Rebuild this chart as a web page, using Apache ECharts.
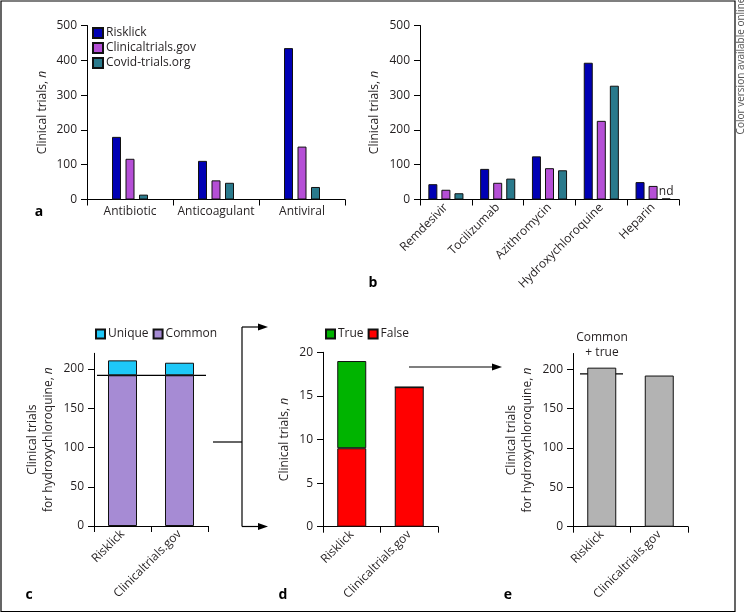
<!DOCTYPE html>
<html><head><meta charset="utf-8">
<script src="https://cdn.jsdelivr.net/npm/echarts@6/dist/echarts.min.js"></script>
<style>html,body{margin:0;padding:0;background:#fff}#c{width:746px;height:613px}</style>
</head><body><div id="c"></div>
<script>
// ---- data ----
const catsA = ['Antibiotic', 'Anticoagulant', 'Antiviral'];
const risklickA = [180, 111, 435];
const clinicalA = [117, 55, 152];
const covidA = [14, 48, 36];

const catsB = ['Remdesivir', 'Tocilizumab', 'Azithromycin', 'Hydroxychloroquine', 'Heparin'];
const risklickB = [44, 88, 124, 393, 50];
const clinicalB = [28, 48, 90, 226, 39];
const covidB = [18, 60, 84, 327, 3];
const notDetermined = [false, false, false, false, true];

const catsCDE = ['Risklick', 'Clinicaltrials.gov'];
const commonC = [192, 192];
const uniqueC = [19, 16];
const trueD = [10, 0];
const falseD = [9, 16];
const commonTrueE = [202, 192];
const commonLine = 192;

const ticksA = [0, 100, 200, 300, 400, 500];
const ticksC = [0, 50, 100, 150, 200];
const ticksD = [0, 5, 10, 15, 20];

// ---- style ----
const FONT = '"Open Sans", sans-serif';
const TXT = '#231f20';
const C = {
  risk: '#0000b4', ct: '#b54fd6', covid: '#2a7a8c',
  unique: '#1ec8f8', common: '#a68bd4', tru: '#00b400', fal: '#ff0000', e: '#b3b3b3'
};

const chart = echarts.init(document.getElementById('c'), null, {renderer: 'canvas'});

function yAx(gi, max, interval, ticks, nameGap, name) {
  return {
    gridIndex: gi, type: 'value', min: 0, max: max, interval: interval,
    axisLine: {show: true, lineStyle: {color: '#000', width: 1}},
    axisTick: {show: true, length: 6, lineStyle: {color: '#000'}, customValues: ticks},
    axisLabel: {color: TXT, fontSize: 12, fontFamily: FONT, margin: 10, customValues: ticks},
    splitLine: {show: false},
    name: name, nameLocation: 'middle', nameGap: nameGap, nameRotate: 90,
    nameTextStyle: {color: TXT, fontSize: 12, fontFamily: FONT, lineHeight: 16,
      rich: {i: {fontStyle: 'italic', fontSize: 12, fontFamily: FONT, color: TXT, lineHeight: 16}}}
  };
}
function xAx(gi, data, rotate, margin) {
  return {
    gridIndex: gi, type: 'category', data: data,
    axisLine: {show: true, lineStyle: {color: '#000', width: 1}},
    axisTick: {show: true, length: 6, alignWithLabel: false, lineStyle: {color: '#000'}},
    axisLabel: {color: TXT, fontSize: 12, fontFamily: FONT, margin: margin, rotate: rotate, interval: 0}
  };
}
const border = {borderColor: '#111', borderWidth: 1};
function bar(name, xi, data, color, extra) {
  return Object.assign({
    type: 'bar', name: name, xAxisIndex: xi, yAxisIndex: xi, data: data,
    itemStyle: Object.assign({color: color}, border)
  }, extra || {});
}

const covidBData = covidB.map((v, i) => notDetermined[i]
  ? {value: v, itemStyle: {color: '#000'}, label: {show: true, position: 'top', distance: 1, formatter: 'nd', color: TXT, fontSize: 12, fontFamily: FONT}}
  : v);

const yName1 = 'Clinical trials, {i|n}';
const yName2 = 'Clinical trials\nfor hydroxychloroquine, {i|n}';

const legendBase = {
  icon: 'rect', itemWidth: 10, itemHeight: 10, selectedMode: false,
  textStyle: {color: TXT, fontSize: 12, fontFamily: FONT, padding: [0, 0, 0, -2]}, padding: 0
};

chart.setOption({
  animation: false,
  backgroundColor: '#fff',
  textStyle: {fontFamily: FONT},
  grid: [
    {left: 87, top: 25.5, width: 258, height: 174},
    {left: 420, top: 25.5, width: 259, height: 174},
    {left: 94, top: 353.3, width: 114, height: 172.7},
    {left: 323, top: 352.3, width: 115, height: 174.4},
    {left: 573, top: 353.5, width: 115, height: 173.2}
  ],
  xAxis: [
    xAx(0, catsA, 0, 6),
    xAx(1, catsB, 45, 6),
    xAx(2, catsCDE, 45, 6),
    xAx(3, catsCDE, 45, 6),
    xAx(4, catsCDE, 45, 6)
  ],
  yAxis: [
    yAx(0, 500, 100, ticksA, 36, yName1),
    yAx(1, 500, 100, ticksA, 37, yName1),
    yAx(2, 220, 50, ticksC, 37, yName2),
    yAx(3, 20, 5, ticksD, 30, yName1),
    yAx(4, 220, 50, ticksC, 37, yName2)
  ],
  legend: [
    Object.assign({}, legendBase, {left: 92, top: 27, orient: 'vertical', itemGap: 3,
      data: ['Risklick', 'Clinicaltrials.gov', 'Covid-trials.org']}),
    Object.assign({}, legendBase, {left: 95, top: 328, orient: 'horizontal', itemGap: 4,
      itemWidth: 9, itemHeight: 9, data: ['Unique', 'Common']}),
    Object.assign({}, legendBase, {left: 325, top: 328, orient: 'horizontal', itemGap: 4,
      itemWidth: 9, itemHeight: 9, data: ['True', 'False']})
  ],
  series: [
    bar('Risklick', 0, risklickA, C.risk, {barWidth: 9, barGap: '50%'}),
    bar('Clinicaltrials.gov', 0, clinicalA, C.ct, {barWidth: 9, barGap: '50%'}),
    bar('Covid-trials.org', 0, covidA, C.covid, {barWidth: 9, barGap: '50%'}),
    bar('Risklick', 1, risklickB, C.risk, {barWidth: 9, barGap: '45%'}),
    bar('Clinicaltrials.gov', 1, clinicalB, C.ct, {barWidth: 9, barGap: '45%'}),
    bar('Covid-trials.org', 1, covidBData, C.covid, {barWidth: 9, barGap: '45%'}),
    bar('Common', 2, commonC, C.common, {barWidth: 29, stack: 'c'}),
    bar('Unique', 2, uniqueC, C.unique, {barWidth: 29, stack: 'c'}),
    bar('False', 3, falseD, C.fal, {barWidth: 29, stack: 'd'}),
    bar('True', 3, trueD, C.tru, {barWidth: 29, stack: 'd'}),
    bar('Common + true', 4, commonTrueE, C.e, {barWidth: 29})
  ]
});

// ---- annotations ----
const yc = chart.convertToPixel({yAxisIndex: 2}, commonLine);
const ye = chart.convertToPixel({yAxisIndex: 4}, commonLine + 2);
const lineS = {stroke: '#000', lineWidth: 1.2};
function arrowHead(x, y) {
  return {type: 'polygon', shape: {points: [[x, y], [x - 10, y - 3.5], [x - 10, y + 3.5]]}, style: {fill: '#000'}};
}
function letter(t, x, y) {
  return {type: 'text', x: x, y: y, style: {text: t, fill: '#000', font: 'bold 14px ' + FONT, textAlign: 'center', textVerticalAlign: 'middle'}};
}
chart.setOption({
  graphic: [
    {type: 'rect', shape: {x: 1, y: 1, width: 734, height: 610.5}, style: {fill: null, stroke: '#000', lineWidth: 1.2}},
    {type: 'text', x: 741, y: 66, rotation: Math.PI / 2,
      style: {text: 'Color version available online', fill: '#555', font: '10px ' + FONT, textAlign: 'center', textVerticalAlign: 'middle'}},
    letter('a', 39, 212), letter('b', 373, 283), letter('c', 29, 595), letter('d', 283, 595), letter('e', 508, 595),
    {type: 'line', shape: {x1: 97, y1: yc, x2: 206, y2: yc}, style: lineS},
    {type: 'line', shape: {x1: 580, y1: ye, x2: 623, y2: ye}, style: lineS},
    {type: 'text', x: 602, y: 345, style: {text: 'Common\n+ true', fill: TXT, font: '12px ' + FONT, lineHeight: 15, textAlign: 'center', textVerticalAlign: 'middle'}},
    // bracket c -> d
    {type: 'polyline', shape: {points: [[213, 442], [242, 442]]}, style: lineS},
    {type: 'polyline', shape: {points: [[242, 327], [242, 526.5]]}, style: lineS},
    {type: 'polyline', shape: {points: [[242, 327], [260, 327]]}, style: lineS},
    {type: 'polyline', shape: {points: [[242, 526.5], [260, 526.5]]}, style: lineS},
    arrowHead(268, 327), arrowHead(268, 526.5),
    // arrow d -> e
    {type: 'polyline', shape: {points: [[409, 367], [494, 367]]}, style: lineS},
    arrowHead(502, 367)
  ]
});
</script>
</body></html>
